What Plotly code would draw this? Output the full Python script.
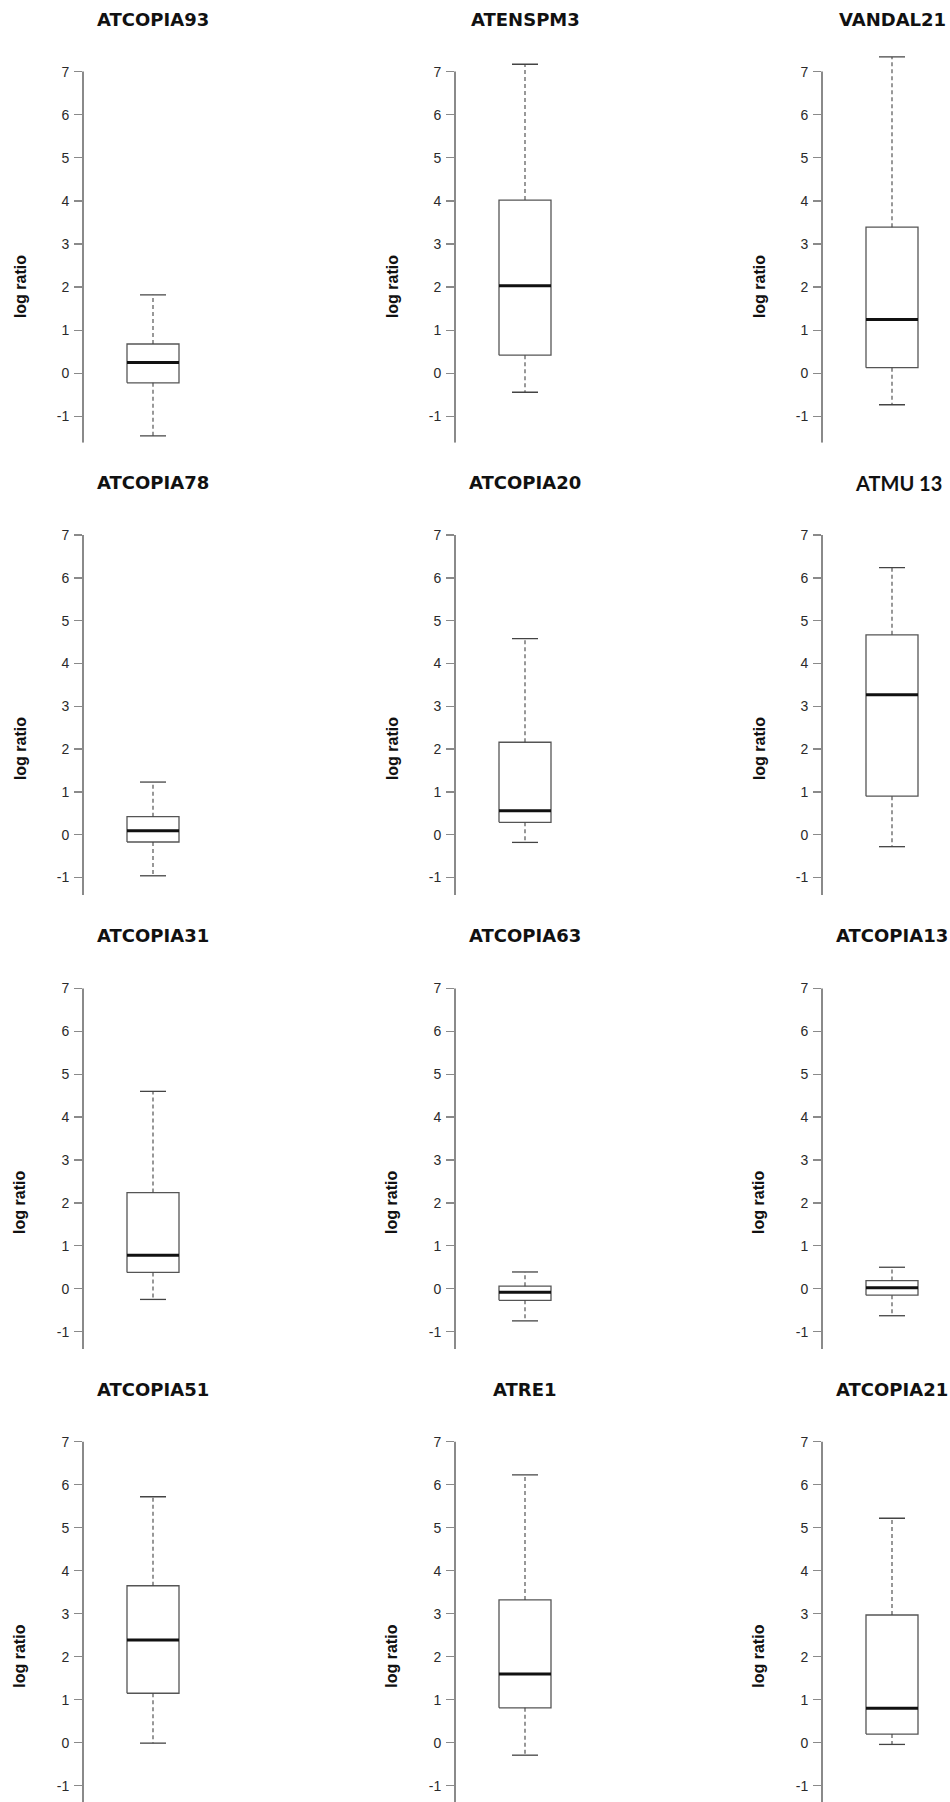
import plotly.graph_objects as go

# ---- data ----
names = ["ATCOPIA93", "ATENSPM3", "VANDAL21",
         "ATCOPIA78", "ATCOPIA20", "ATMU 13",
         "ATCOPIA31", "ATCOPIA63", "ATCOPIA13",
         "ATCOPIA51", "ATRE1", "ATCOPIA21"]
upper_whisker = [1.82, 7.17, 7.34, 1.23, 4.58, 6.24, 4.60, 0.39, 0.50, 5.72, 6.23, 5.22]
q3_vals       = [0.68, 4.02, 3.39, 0.42, 2.16, 4.67, 2.24, 0.06, 0.19, 3.65, 3.32, 2.97]
median_vals   = [0.25, 2.03, 1.25, 0.09, 0.56, 3.27, 0.78, -0.08, 0.02, 2.39, 1.60, 0.80]
q1_vals       = [-0.22, 0.42, 0.13, -0.17, 0.29, 0.90, 0.38, -0.27, -0.15, 1.15, 0.81, 0.20]
lower_whisker = [-1.45, -0.44, -0.73, -0.96, -0.18, -0.28, -0.25, -0.75, -0.63, -0.01, -0.29, -0.04]
ytick_vals = [-1, 0, 1, 2, 3, 4, 5, 6, 7]
ytick_text = ["-1", "0", "1", "2", "3", "4", "5", "6", "7"]
y_label = "log ratio"

# ---- layout constants (pixels) ----
W, H = 950, 1802
col_axis_px = [83, 455, 822]
row_zero_px = [373.3, 834.7, 1288.7, 1742.7]
row_unit_px = [43.1, 42.8, 42.9, 43.0]
row_bottom_px = [442.7, 895, 1349, 1802]
Y_TOP = 7.5
DOM_W = 125
BOX_C, BOX_HALF, CAP_HALF = 70, 26, 13
AXIS_TOP = 7

AX_COLOR = "#8a8a8a"
BOX_COLOR = "#555555"
TXT_COLOR = "#2a2a2a"
TICK_FONT = dict(family="Liberation Sans, Arial, sans-serif", size=14, color=TXT_COLOR)
TITLE_FONT = dict(family="DejaVu Sans, sans-serif", size=18, color="#111111")
ALT_TITLE_FONT = dict(family="Lato, sans-serif", size=20, color="#111111")
YLAB_FONT = dict(family="Liberation Sans, Arial, sans-serif", size=16, color="#111111")

fig = go.Figure()
layout = {}
annotations = []
shapes = []

for k in range(len(names)):
    r, c = divmod(k, 3)
    n = k + 1
    xa = "x" if n == 1 else f"x{n}"
    ya = "y" if n == 1 else f"y{n}"
    ymin = -(row_bottom_px[r] - row_zero_px[r]) / row_unit_px[r]
    top_px = row_zero_px[r] - Y_TOP * row_unit_px[r]
    ydom = [1 - row_bottom_px[r] / H, 1 - top_px / H]
    xdom = [col_axis_px[c] / W, (col_axis_px[c] + DOM_W) / W]

    lo, hi = BOX_C - BOX_HALF, BOX_C + BOX_HALF
    # box body
    fig.add_trace(go.Scatter(
        x=[lo, hi, hi, lo, lo],
        y=[q1_vals[k], q1_vals[k], q3_vals[k], q3_vals[k], q1_vals[k]],
        mode="lines", fill="toself", fillcolor="white",
        line=dict(color=BOX_COLOR, width=1.3),
        xaxis=xa, yaxis=ya, hoverinfo="skip", showlegend=False))
    # dashed whiskers
    fig.add_trace(go.Scatter(
        x=[BOX_C, BOX_C, None, BOX_C, BOX_C],
        y=[q3_vals[k], upper_whisker[k], None, q1_vals[k], lower_whisker[k]],
        mode="lines", line=dict(color="#444444", width=1.1, dash="4px,3px"),
        xaxis=xa, yaxis=ya, hoverinfo="skip", showlegend=False))
    # whisker caps
    fig.add_trace(go.Scatter(
        x=[BOX_C - CAP_HALF, BOX_C + CAP_HALF, None, BOX_C - CAP_HALF, BOX_C + CAP_HALF],
        y=[upper_whisker[k], upper_whisker[k], None, lower_whisker[k], lower_whisker[k]],
        mode="lines", line=dict(color="#444444", width=1.3),
        xaxis=xa, yaxis=ya, hoverinfo="skip", showlegend=False))
    # median
    fig.add_trace(go.Scatter(
        x=[lo, hi], y=[median_vals[k], median_vals[k]],
        mode="lines", line=dict(color="#111111", width=3),
        xaxis=xa, yaxis=ya, hoverinfo="skip", showlegend=False))

    layout["xaxis" if n == 1 else f"xaxis{n}"] = dict(
        domain=xdom, range=[0, DOM_W], visible=False, anchor=ya, fixedrange=True)
    layout["yaxis" if n == 1 else f"yaxis{n}"] = dict(
        domain=ydom, range=[ymin, Y_TOP], anchor=xa, fixedrange=True,
        tickmode="array", tickvals=ytick_vals, ticktext=ytick_text,
        ticks="outside", ticklen=8,
        tickwidth=1.3, tickcolor=AX_COLOR, showline=False, showgrid=False,
        zeroline=False, tickfont=TICK_FONT, ticklabelstandoff=2)

    # axis line from top tick downward
    shapes.append(dict(type="line", xref=f"{xa} domain", yref=ya,
                       x0=0, x1=0, y0=AXIS_TOP, y1=ymin,
                       line=dict(color=AX_COLOR, width=2)))

    alt = names[k].startswith("ATMU")
    annotations.append(dict(
        text=f"<b>{names[k]}</b>", xref=xa, yref=ya, x=BOX_C, y=AXIS_TOP,
        yshift=52.5, xshift=6 if alt else 0, showarrow=False,
        xanchor="center", yanchor="middle",
        font=ALT_TITLE_FONT if alt else TITLE_FONT))
    annotations.append(dict(
        text=f"<b>{y_label}</b>", xref=f"{xa} domain", yref=ya, x=0, y=2.0,
        xshift=-63, showarrow=False, textangle=-90,
        xanchor="center", yanchor="middle", font=YLAB_FONT))

fig.update_layout(
    width=W, height=H, autosize=False,
    margin=dict(l=0, r=0, t=0, b=0),
    paper_bgcolor="white", plot_bgcolor="white",
    showlegend=False, annotations=annotations, shapes=shapes,
    **layout)

fig.write_html(
    "out.html",
    config={"displayModeBar": False, "staticPlot": True},
    post_script="document.body.style.margin='0';document.body.style.overflow='hidden';")
